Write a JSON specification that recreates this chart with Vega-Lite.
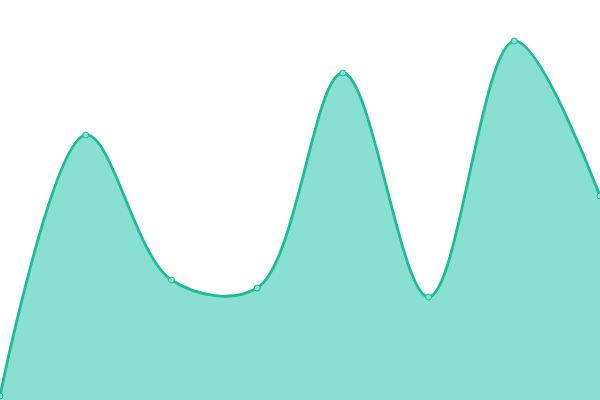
{
  "$schema": "https://vega.github.io/schema/vega-lite/v6.json",
  "width": 600,
  "height": 400,
  "autosize": {"type": "none"},
  "padding": 0,
  "background": "white",
  "config": {"view": {"stroke": null}},
  "data": {"values": [
    {"i": 0, "v": 4},
    {"i": 1, "v": 265},
    {"i": 2, "v": 120},
    {"i": 3, "v": 112},
    {"i": 4, "v": 327},
    {"i": 5, "v": 103},
    {"i": 6, "v": 359},
    {"i": 7, "v": 204}
  ]},
  "encoding": {
    "x": {"field": "i", "type": "quantitative", "scale": {"domain": [0, 7], "nice": false}, "axis": null},
    "y": {"field": "v", "type": "quantitative", "scale": {"domain": [0, 400], "nice": false}, "axis": null}
  },
  "layer": [
    {"mark": {"type": "area", "interpolate": "catmull-rom", "color": "#89e0d0", "opacity": 1}},
    {"mark": {"type": "line", "interpolate": "catmull-rom", "color": "#1fba98", "strokeWidth": 2.8}},
    {"mark": {"type": "point", "filled": true, "fill": "#89e0d0", "stroke": "#1fba98", "strokeWidth": 1, "size": 36, "opacity": 1}}
  ]
}
